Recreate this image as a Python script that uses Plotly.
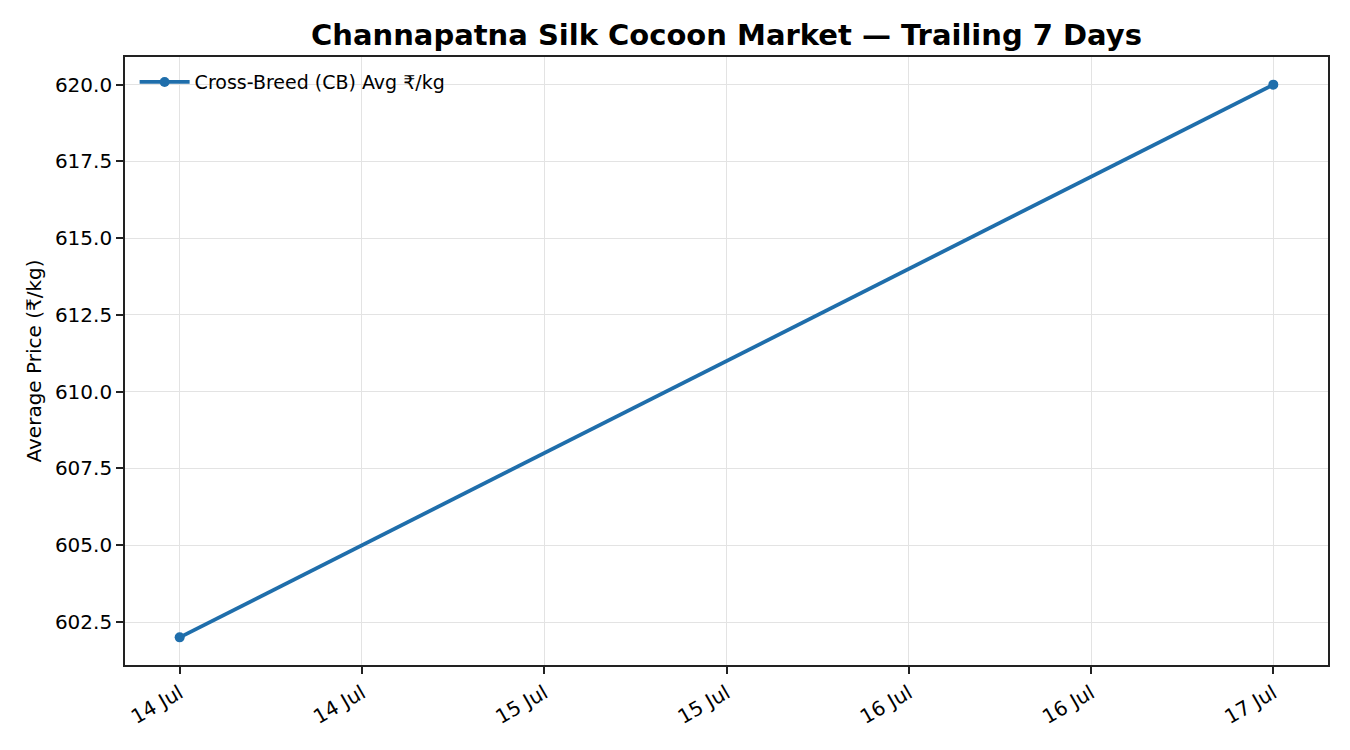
import plotly.graph_objects as go

dates = ["2024-07-14", "2024-07-17"]
prices = [602.0, 620.0]
series_name = "Cross-Breed (CB) Avg ₹/kg"
title = "Channapatna Silk Cocoon Market — Trailing 7 Days"
y_label = "Average Price (₹/kg)"

color = "#1f6eab"
font = "DejaVu Sans"

W, H = 1342, 742  # page body adds an 8px offset

fig = go.Figure()
fig.add_trace(go.Scatter(
    x=dates, y=prices, mode="lines+markers", name=series_name,
    line=dict(color=color, width=3.8), marker=dict(color=color, size=10),
))

fig.update_layout(
    width=W, height=H,
    margin=dict(l=117, r=22, t=49, b=85),
    paper_bgcolor="white", plot_bgcolor="white",
    font=dict(family=font, size=20, color="#000000"),
    title=dict(text="<b>" + title + "</b>", x=0.5, xref="paper", xanchor="center",
               y=1 - 27 / H, yanchor="middle", font=dict(size=29, family=font)),
    showlegend=True,
    legend=dict(x=0.008, y=0.99, xanchor="left", yanchor="top", itemwidth=50,
                bgcolor="rgba(255,255,255,0)", font=dict(size=19)),
)

fig.update_xaxes(
    type="date",
    range=["2024-07-13 20:24", "2024-07-17 03:36"],
    tick0="2024-07-14", dtick=43200000, tickformat="%d %b", tickangle=-30,
    showgrid=True, gridcolor="#e3e3e3", gridwidth=1.2,
    showline=True, linecolor="#222222", linewidth=1.7, mirror=True,
    ticks="outside", ticklen=7, tickcolor="#222222", tickwidth=1.7,
    zeroline=False, tickfont=dict(size=20),
)
fig.update_yaxes(
    range=[601.1, 620.9],
    tick0=602.5, dtick=2.5, tickformat=".1f",
    title=dict(text=y_label, font=dict(size=20), standoff=8),
    showgrid=True, gridcolor="#e3e3e3", gridwidth=1.2,
    showline=True, linecolor="#222222", linewidth=1.7, mirror=True,
    ticks="outside", ticklen=7, tickcolor="#222222", tickwidth=1.7,
    zeroline=False, tickfont=dict(size=20),
)

fig.write_html("out.html")
